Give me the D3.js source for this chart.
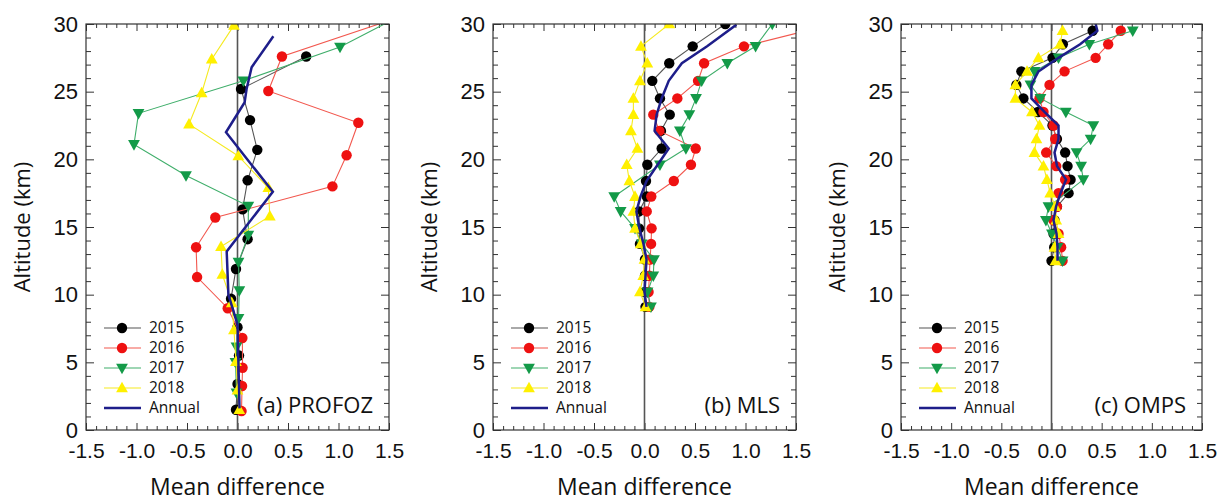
<!DOCTYPE html>
<html>
<head>
<meta charset="utf-8">
<script src="https://cdn.jsdelivr.net/npm/d3@7"></script>
<style>
  html, body { margin: 0; padding: 0; background: #fff; }
  svg { display: block; font-family: "Open Sans", "Noto Sans", sans-serif; }
</style>
</head>
<body>
<svg id="chart" width="1221" height="503"></svg>
<script>
// Profiles of mean difference vs. altitude: [altitude km, mean difference]
const years = ["2015", "2016", "2017", "2018", "Annual"];
const xTicks = [-1.5, -1.0, -0.5, 0.0, 0.5, 1.0, 1.5];
const yTicks = [0, 5, 10, 15, 20, 25, 30];

// (a) PROFOZ
const profoz2015 = [[1.5,-0.015],[3.4,0.0],[5.5,0.015],[7.6,0.0],[9.7,-0.064],[11.9,-0.015],[14.1,0.10],[16.3,0.05],[18.45,0.10],[20.7,0.196],[22.9,0.124],[25.2,0.035],[27.6,0.68]];
const profoz2016 = [[1.4,0.04],[3.25,0.045],[4.6,0.05],[6.8,0.048],[9.0,-0.097],[11.3,-0.40],[13.5,-0.41],[15.7,-0.22],[18.0,0.94],[20.3,1.08],[22.7,1.196],[25.05,0.305],[27.6,0.44],[30.6,1.64]];
const profoz2017 = [[2.75,-0.01],[5.0,-0.02],[6.15,-0.01],[8.25,0.01],[10.3,0.018],[12.4,0.01],[14.4,0.107],[16.55,0.107],[18.8,-0.51],[21.1,-1.025],[23.4,-0.98],[25.8,0.058],[28.3,1.015],[30.6,1.61]];
const profoz2018 = [[1.5,0.018],[2.95,0.0],[5.05,-0.015],[7.4,-0.035],[9.4,-0.057],[11.5,-0.15],[13.55,-0.163],[15.8,0.32],[17.9,0.305],[20.25,0.008],[22.6,-0.48],[24.9,-0.355],[27.4,-0.255],[29.9,-0.035]];
const profozAnnual = [[1.6,0.02],[7.8,0.0],[10.0,-0.09],[13.2,-0.107],[17.6,0.35],[22.0,-0.114],[24.2,0.07],[25.2,0.09],[26.8,0.14],[29.1,0.355]];

// (b) MLS
const mls2015 = [[9.1,0.01],[10.2,0.005],[11.4,0.005],[12.6,0.005],[13.75,-0.045],[14.9,-0.054],[16.15,-0.054],[17.25,0.022],[18.4,0.015],[19.6,0.028],[20.8,0.17],[22.1,0.163],[23.3,0.25],[24.5,0.153],[25.8,0.077],[27.1,0.245],[28.35,0.477],[30.0,0.80]];
const mls2016 = [[9.1,0.048],[10.2,0.04],[11.4,0.048],[12.6,0.055],[13.75,0.065],[14.9,0.07],[16.15,0.022],[17.25,0.067],[18.4,0.29],[19.6,0.46],[20.8,0.507],[22.1,0.147],[23.3,0.087],[24.5,0.325],[25.8,0.53],[27.1,0.59],[28.35,0.985],[29.55,1.63]];
const mls2017 = [[9.1,0.064],[10.2,0.03],[11.4,0.087],[12.6,0.094],[13.75,-0.028],[14.9,-0.094],[16.15,-0.236],[17.25,-0.30],[19.6,0.153],[20.8,0.41],[22.1,0.35],[23.3,0.444],[24.5,0.51],[25.8,0.566],[27.1,0.82],[28.35,1.10],[30.0,1.265]];
const mls2018 = [[9.1,0.01],[10.2,-0.045],[11.4,-0.012],[12.6,0.0],[13.75,-0.038],[14.9,-0.094],[16.15,-0.11],[17.25,-0.094],[18.4,-0.15],[19.6,-0.176],[20.8,-0.07],[22.1,-0.134],[23.3,-0.11],[24.5,-0.11],[25.8,-0.045],[27.1,0.028],[28.35,-0.035],[30.0,0.245]];
const mlsAnnual = [[9.1,0.02],[10.2,0.0],[11.4,0.01],[12.6,0.02],[13.75,-0.01],[14.9,-0.05],[16.15,-0.08],[17.25,-0.04],[18.4,0.02],[19.6,0.13],[20.8,0.24],[22.1,0.10],[23.3,0.12],[24.5,0.17],[25.8,0.24],[27.1,0.37],[28.35,0.62],[29.95,0.91]];

// (c) OMPS
const omps2015 = [[12.5,0.0],[13.5,0.027],[14.5,0.02],[15.5,0.03],[16.5,0.054],[17.5,0.17],[18.5,0.19],[19.5,0.16],[20.5,0.136],[21.5,0.054],[22.5,0.01],[23.5,-0.135],[24.5,-0.28],[25.5,-0.35],[26.5,-0.30],[27.5,0.01],[28.5,0.113],[29.5,0.41]];
const omps2016 = [[12.5,0.11],[13.5,0.096],[14.5,0.07],[15.5,0.02],[16.5,0.054],[17.5,0.07],[18.5,0.136],[19.5,0.047],[20.5,-0.053],[21.5,0.037],[22.5,0.02],[23.5,-0.08],[24.5,-0.12],[25.5,-0.02],[26.5,0.13],[27.5,0.44],[28.5,0.565],[29.5,0.69]];
const omps2017 = [[12.5,0.11],[13.5,0.06],[14.5,0.004],[15.5,-0.056],[16.5,-0.03],[18.5,0.317],[19.5,0.295],[20.5,0.25],[21.5,0.39],[22.5,0.417],[23.5,0.143],[24.5,-0.11],[25.5,-0.21],[26.5,-0.17],[27.5,0.07],[28.5,0.377],[29.5,0.81]];
const omps2018 = [[12.5,0.04],[13.5,0.03],[14.5,0.07],[15.5,0.047],[16.5,0.037],[17.5,-0.013],[18.5,-0.046],[19.5,-0.08],[20.5,-0.17],[21.5,-0.15],[22.5,-0.12],[23.5,-0.195],[24.5,-0.36],[25.5,-0.36],[26.5,-0.244],[27.5,-0.13],[28.5,0.086],[29.5,0.11]];
const ompsAnnual = [[12.5,0.06],[13.5,0.06],[14.5,0.05],[15.5,0.02],[16.5,0.045],[17.5,0.09],[18.5,0.145],[19.5,0.055],[20.5,0.03],[21.5,0.07],[22.5,0.07],[23.5,-0.07],[24.5,-0.2],[25.5,-0.2],[26.5,-0.13],[27.5,0.07],[28.5,0.285],[29.5,0.457],[30.0,0.44]];

const panelTitles = ["(a) PROFOZ", "(b) MLS", "(c) OMPS"];

// Series styling
const styles = {
  "2015":   { line: "#555555", fill: "#000000", symbol: "circle" },
  "2016":   { line: "#f2584f", fill: "#ee1111", symbol: "circle" },
  "2017":   { line: "#3fae6a", fill: "#139a48", symbol: "down" },
  "2018":   { line: "#f5ea20", fill: "#fff000", symbol: "up" },
  "Annual": { line: "#1e1e8a", width: 2.5 }
};

const panels = [
  { left: 86,  right: 389,  title: panelTitles[0], series: [profoz2015, profoz2016, profoz2017, profoz2018, profozAnnual] },
  { left: 493, right: 796,  title: panelTitles[1], series: [mls2015, mls2016, mls2017, mls2018, mlsAnnual] },
  { left: 901, right: 1202, title: panelTitles[2], series: [omps2015, omps2016, omps2017, omps2018, ompsAnnual] }
];
const plotTop = 24, plotBottom = 430;

const svg = d3.select("#chart");
const defs = svg.append("defs");

function marker(sel, kind, fill) {
  if (kind === "circle") {
    sel.append("circle").attr("r", 5.2).attr("fill", fill);
  } else {
    const s = 6.2;
    const pts = kind === "up"
      ? [[0,-s],[s*0.95,s*0.7],[-s*0.95,s*0.7]]
      : [[0,s],[s*0.95,-s*0.7],[-s*0.95,-s*0.7]];
    sel.append("path").attr("d", "M" + pts.map(p => p.join(",")).join("L") + "Z").attr("fill", fill);
  }
}

panels.forEach((p, i) => {
  const x = d3.scaleLinear().domain([-1.5, 1.5]).range([p.left, p.right]);
  const y = d3.scaleLinear().domain([0, 30]).range([plotBottom, plotTop]);
  const g = svg.append("g");

  defs.append("clipPath").attr("id", "clip" + i)
    .append("rect").attr("x", p.left).attr("y", plotTop)
    .attr("width", p.right - p.left).attr("height", plotBottom - plotTop);

  const minorY = d3.range(0, 31).filter(v => v % 5 !== 0);
  const minorX = d3.range(-15, 16).map(v => v / 10).filter(v => Math.abs(Math.round(v * 10)) % 5 !== 0);
  const fmt = d => d.toFixed(1);

  function axis(gen, tr, values, size, labels, pad) {
    const a = gen.tickValues(values).tickSize(-size).tickPadding(pad || 9);
    if (!labels) a.tickFormat("");
    else if (labels === "x") a.tickFormat(fmt);
    else a.tickFormat(d3.format("d"));
    const ag = g.append("g").attr("transform", tr).call(a);
    ag.select(".domain").remove();
    ag.selectAll("line").attr("stroke", "#333").attr("stroke-width", 1);
    ag.selectAll("text").attr("fill", "#111");
    return ag;
  }

  const yl = axis(d3.axisLeft(y), `translate(${p.left},0)`, yTicks, 8, "y", 8);
  yl.selectAll("text").attr("font-size", 22);
  axis(d3.axisLeft(y), `translate(${p.left},0)`, minorY, 5, null);
  axis(d3.axisRight(y), `translate(${p.right},0)`, yTicks, 8, null);
  axis(d3.axisRight(y), `translate(${p.right},0)`, minorY, 5, null);
  const xl = axis(d3.axisBottom(x), `translate(0,${plotBottom})`, xTicks, 7, "x", 12);
  xl.selectAll("text").attr("font-size", 21).attr("dy", "0.78em");
  axis(d3.axisBottom(x), `translate(0,${plotBottom})`, minorX, 4, null);
  axis(d3.axisTop(x), `translate(0,${plotTop})`, xTicks, 7, null);
  axis(d3.axisTop(x), `translate(0,${plotTop})`, minorX, 4, null);

  // Zero reference line
  g.append("line").attr("x1", x(0)).attr("x2", x(0)).attr("y1", y(0)).attr("y2", y(30))
    .attr("stroke", "#555").attr("stroke-width", 1.6);

  const plot = g.append("g").attr("clip-path", `url(#clip${i})`);
  const line = d3.line().x(d => x(d[1])).y(d => y(d[0]));

  p.series.forEach((data, k) => {
    const name = years[k];
    const st = styles[name];
    plot.append("path").datum(data).attr("d", line)
      .attr("fill", "none").attr("stroke", st.line).attr("stroke-width", st.width || 1.1);
    if (st.symbol) {
      plot.selectAll(null).data(data).enter().append("g")
        .attr("transform", d => `translate(${x(d[1])},${y(d[0])})`)
        .each(function () { marker(d3.select(this), st.symbol, st.fill); });
    }
  });

  // Frame
  g.append("rect").attr("x", p.left).attr("y", plotTop)
    .attr("width", p.right - p.left).attr("height", plotBottom - plotTop)
    .attr("fill", "none").attr("stroke", "#333").attr("stroke-width", 1.2);

  // Legend
  const lx = p.left + 18, ly0 = 328, step = 20;
  years.forEach((name, k) => {
    const st = styles[name];
    const row = g.append("g").attr("transform", `translate(${lx},${ly0 + k * step})`);
    row.append("line").attr("x1", 0).attr("x2", 37).attr("y1", 0).attr("y2", 0)
      .attr("stroke", st.line).attr("stroke-width", st.width || 1.1);
    if (st.symbol) {
      const m = row.append("g").attr("transform", "translate(18,0)");
      marker(m, st.symbol, st.fill);
    }
    row.append("text").attr("x", 45).attr("y", 0).attr("dy", "0.35em")
      .attr("font-size", 15.5).attr("fill", "#111").text(name);
  });

  // Panel title
  g.append("text").attr("x", p.right - 16).attr("y", 413).attr("text-anchor", "end")
    .attr("font-size", 22).attr("fill", "#111").text(p.title);

  // Axis titles
  g.append("text").attr("x", (p.left + p.right) / 2).attr("y", 495).attr("text-anchor", "middle")
    .attr("font-size", 23).attr("fill", "#111").text("Mean difference");
  g.append("text").attr("transform", `translate(${p.left - 64},${(plotTop + plotBottom) / 2}) rotate(-90)`)
    .attr("text-anchor", "middle").attr("dy", "0.35em")
    .attr("font-size", 22).attr("fill", "#111").text("Altitude (km)");
});
</script>
</body>
</html>
